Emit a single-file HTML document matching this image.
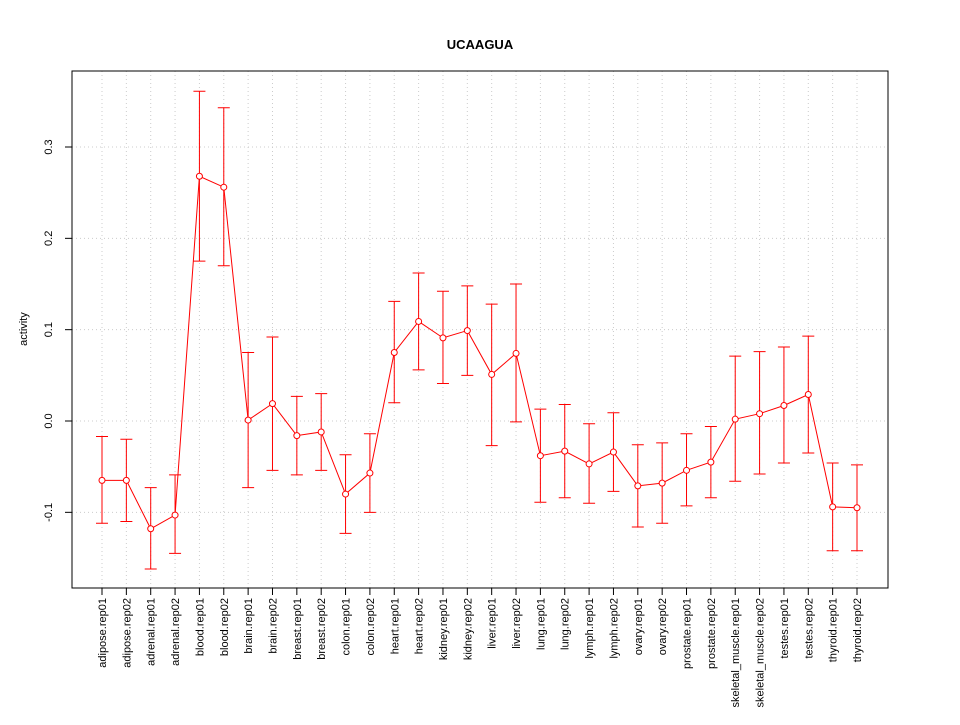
<!DOCTYPE html>
<html><head><meta charset="utf-8"><style>
body{margin:0;background:#fff}
svg text{font-family:"Liberation Sans",sans-serif}
</style></head><body>
<svg id="chart" width="960" height="720" xmlns="http://www.w3.org/2000/svg">
<rect width="960" height="720" fill="#fff"/>
<text x="480" y="49" text-anchor="middle" font-size="13" font-weight="bold">UCAAGUA</text>
<text transform="translate(27,329) rotate(-90)" text-anchor="middle" font-size="11">activity</text>
<g id="grid"></g><g id="marks"></g><g id="axes"></g>
<rect x="72" y="71" width="816" height="517" fill="none" stroke="#000"/>
</svg>
<script>
const categories=["adipose.rep01","adipose.rep02","adrenal.rep01","adrenal.rep02","blood.rep01","blood.rep02","brain.rep01","brain.rep02","breast.rep01","breast.rep02","colon.rep01","colon.rep02","heart.rep01","heart.rep02","kidney.rep01","kidney.rep02","liver.rep01","liver.rep02","lung.rep01","lung.rep02","lymph.rep01","lymph.rep02","ovary.rep01","ovary.rep02","prostate.rep01","prostate.rep02","skeletal_muscle.rep01","skeletal_muscle.rep02","testes.rep01","testes.rep02","thyroid.rep01","thyroid.rep02"];
const values=[-0.065,-0.065,-0.118,-0.103,0.268,0.256,0.001,0.019,-0.016,-0.012,-0.080,-0.057,0.075,0.109,0.091,0.099,0.051,0.074,-0.038,-0.033,-0.047,-0.034,-0.071,-0.068,-0.054,-0.045,0.002,0.008,0.017,0.029,-0.094,-0.095];
const upper=[-0.017,-0.020,-0.073,-0.059,0.361,0.343,0.075,0.092,0.027,0.030,-0.037,-0.014,0.131,0.162,0.142,0.148,0.128,0.150,0.013,0.018,-0.003,0.009,-0.026,-0.024,-0.014,-0.006,0.071,0.076,0.081,0.093,-0.046,-0.048];
const lower=[-0.112,-0.110,-0.162,-0.145,0.175,0.170,-0.073,-0.054,-0.059,-0.054,-0.123,-0.100,0.020,0.056,0.041,0.050,-0.027,-0.001,-0.089,-0.084,-0.090,-0.077,-0.116,-0.112,-0.093,-0.084,-0.066,-0.058,-0.046,-0.035,-0.142,-0.142];
const yTicks=[-0.1,0.0,0.1,0.2,0.3];
const yTickLabels=["-0.1","0.0","0.1","0.2","0.3"];
const NS="http://www.w3.org/2000/svg";
const xs=i=>102+i*(857-102)/(categories.length-1);
const ys=v=>421-v*913.3;
function mk(t,a,p){const e=document.createElementNS(NS,t);for(const k in a)e.setAttribute(k,a[k]);p.appendChild(e);return e;}
const grid=document.getElementById('grid'),marks=document.getElementById('marks'),axes=document.getElementById('axes');
categories.forEach((c,i)=>{
 const g=mk('line',{x1:xs(i),x2:xs(i),y1:71,y2:588,stroke:'#ccc','stroke-dasharray':'1,3'},grid);
 
 
 const t=mk('line',{x1:xs(i),x2:xs(i),y1:588,y2:595,stroke:'#000'},axes);
 
 
 const l=mk('text',{transform:`translate(${xs(i)+4},598) rotate(-90)`,'text-anchor':'end','font-size':11},axes);
 l.textContent=c;
 
 
});
yTicks.forEach((v,i)=>{
 const g=mk('line',{x1:72,x2:888,y1:ys(v),y2:ys(v),stroke:'#ccc','stroke-dasharray':'1,3'},grid);
 
 
 const t=mk('line',{x1:65,x2:72,y1:ys(v),y2:ys(v),stroke:'#000'},axes);
 
 
 const l=mk('text',{transform:`translate(52,${ys(v)}) rotate(-90)`,'text-anchor':'middle','font-size':11},axes);
 l.textContent=yTickLabels[i];
 
 
});
const pl=mk('polyline',{points:values.map((v,i)=>xs(i)+','+ys(v)).join(' '),fill:'none',stroke:'#f00'},marks);


values.forEach((v,i)=>{
 const x=xs(i);
 const e=mk('path',{d:`M${x},${ys(upper[i])}V${ys(lower[i])}M${x-6},${ys(upper[i])}H${x+6}M${x-6},${ys(lower[i])}H${x+6}`,stroke:'#f00',fill:'none'},marks);
 
 
 const p=mk('circle',{cx:x,cy:ys(v),r:3,fill:'#fff',stroke:'#f00'},marks);
 
 
});
</script>
</body></html>
